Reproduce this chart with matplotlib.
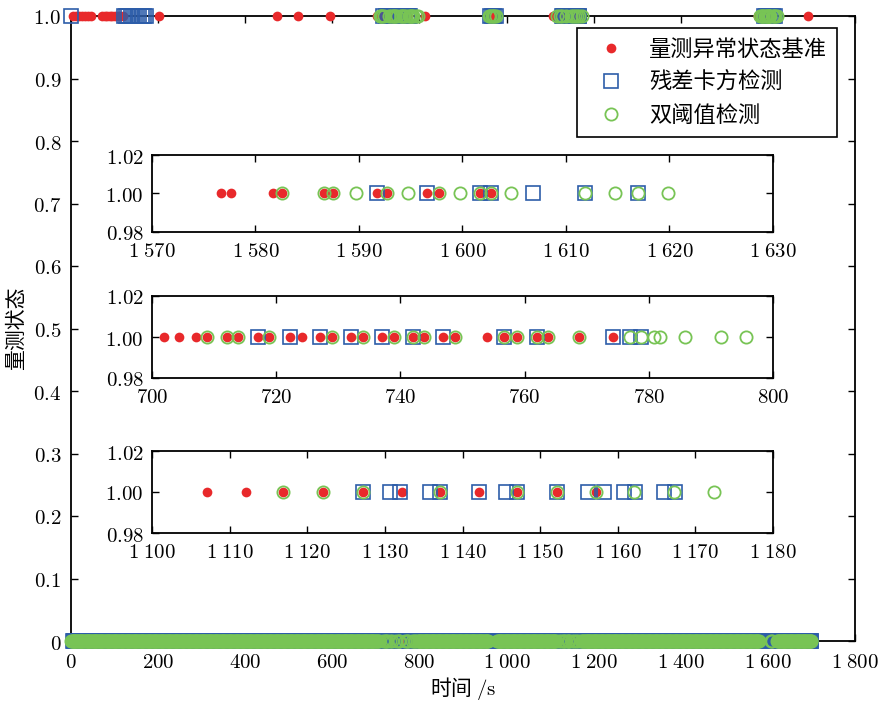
import matplotlib.pyplot as plt
import numpy as np

plt.rcParams['font.family'] = ['Noto Sans CJK SC', 'DejaVu Sans']
plt.rcParams['mathtext.fontset'] = 'cm'

# sampling grid of the whole record (s)
t_start, t_end, t_step = 0, 1700, 2

# instants flagged as abnormal (state = 1) by each method
ref_win1 = [1576.7, 1577.6, 1581.7, 1582.6, 1586.6, 1587.5, 1591.7, 1592.7,
            1596.6, 1597.7, 1601.7, 1602.8]
chi_win1 = [1591.7, 1596.6, 1601.7, 1602.8, 1606.8, 1611.8, 1617.0]
dual_win1 = [1582.6, 1586.6, 1587.5, 1589.7, 1592.7, 1594.7, 1597.7, 1599.8,
             1601.7, 1602.8, 1604.7, 1611.8, 1614.7, 1617.0, 1619.9]

ref_win2 = [701.9, 704.3, 707.1, 708.9, 712.1, 713.9, 717.1, 718.9, 722.3,
            724.2, 727.1, 729.0, 732.1, 733.9, 737.0, 738.9, 742.0, 743.8,
            746.8, 748.8, 754.0, 756.7, 758.8, 762.0, 763.8, 768.7, 774.2]
chi_win2 = [717.1, 722.3, 727.1, 732.1, 737.0, 742.0, 746.8, 756.7, 762.0,
            774.2, 776.9, 778.8]
dual_win2 = [708.9, 712.1, 713.9, 718.9, 729.0, 733.9, 738.9, 742.0, 743.8,
             748.8, 756.7, 758.8, 762.0, 763.8, 768.7, 776.9, 778.8, 780.9,
             781.8, 785.8, 791.6, 795.6]

ref_win3 = [1107.1, 1112.1, 1116.9, 1122.0, 1127.2, 1132.2, 1137.1, 1142.1,
            1147.0, 1152.2, 1157.2]
chi_win3 = [1127.2, 1130.7, 1132.0, 1135.8, 1137.1, 1142.1, 1145.6, 1147.0,
            1152.2, 1156.2, 1158.2, 1160.8, 1162.2, 1166.0, 1167.4]
dual_win3 = [1116.9, 1122.0, 1127.2, 1137.1, 1147.0, 1152.2, 1157.2, 1162.1,
             1167.3, 1172.4]

# flags outside the zoomed windows
ref_other = [5, 12, 19, 26, 33, 40, 47, 71, 77, 83, 89, 95, 101, 107, 113,
             119, 202, 473, 521, 595, 813, 966, 968, 1691]
chi_other = [1, 122, 127, 132, 137, 142, 147, 152, 157, 162, 167, 172,
             961, 966, 971, 976]
dual_other = [960, 963, 966, 969, 972, 975]

labels = ['量测异常状态基准', '残差卡方检测', '双阈值检测']
x_ticks = [0, 200, 400, 600, 800, 1000, 1200, 1400, 1600, 1800]
y_ticks = [0, 0.1, 0.2, 0.3, 0.4, 0.5, 0.6, 0.7, 0.8, 0.9, 1.0]

red, blue, green = '#e8292b', '#2d5da9', '#78c455'
styles = [dict(marker='o', ms=7, mfc=red, mec=red, mew=0, ls='none'),
          dict(marker='s', ms=10.5, mfc='none', mec=blue, mew=1.2, ls='none'),
          dict(marker='o', ms=8.8, mfc='none', mec=green, mew=1.3, ls='none')]


def num(v, dec=0):
    s = f'{v:.{dec}f}'
    if v >= 1000:
        s = s[:-3] + r'\;' + s[-3:]
    return f'${s}$'


series = []
for win1, win2, win3, other in [(ref_win1, ref_win2, ref_win3, ref_other),
                                (chi_win1, chi_win2, chi_win3, chi_other),
                                (dual_win1, dual_win2, dual_win3, dual_other)]:
    series.append(np.sort(np.array(other + win1 + win2 + win3, dtype=float)))

grid = np.arange(t_start, t_end + t_step, t_step, dtype=float)

fig = plt.figure(figsize=(8.79, 7.04), dpi=100)
ax = fig.add_axes([71 / 879, 1 - 641 / 704, 784 / 879, 625 / 704])

for t_abn, st, lab in zip(series, styles, labels):
    dist = np.min(np.abs(grid[:, None] - t_abn[None, :]), axis=1)
    t_norm = grid[dist > 1.5]
    ax.plot(t_norm, np.zeros_like(t_norm), clip_on=False, zorder=3, **st)
    ax.plot(t_abn, np.ones_like(t_abn), clip_on=False, zorder=3, label=lab, **st)

ax.set_xlim(0, 1800)
ax.set_ylim(0, 1)
ax.set_xticks(x_ticks)
ax.set_xticklabels([num(v) for v in x_ticks])
ax.set_yticks(y_ticks)
ax.set_yticklabels(['$0$'] + [num(v, 1) for v in y_ticks[1:]])
ax.tick_params(direction='in', top=True, right=True, labelsize=15, length=5,
               width=1.0, pad=7)
for sp in ax.spines.values():
    sp.set_linewidth(1.3)
ax.set_xlabel('时间 $/\\mathrm{s}$', fontsize=15, labelpad=2)
ax.set_ylabel('量测状态', fontsize=15, labelpad=4)

leg = ax.legend(loc='upper right', bbox_to_anchor=(0.977, 0.981),
                borderaxespad=0, fancybox=False, edgecolor='black',
                fontsize=16, handletextpad=0.6, labelspacing=0.45,
                borderpad=0.45, handlelength=2.2, framealpha=1)
leg.get_frame().set_linewidth(1.2)

windows = [(155, 232, 1570, 1630, 10),
           (296, 378, 700, 800, 20),
           (451, 533, 1100, 1180, 10)]
for top, bot, x0, x1, step in windows:
    ins = fig.add_axes([152 / 879, 1 - bot / 704, 621 / 879, (bot - top) / 704])
    for t_abn, st in zip(series, styles):
        sel = t_abn[(t_abn >= x0) & (t_abn <= x1)]
        ins.plot(sel, np.ones_like(sel), **st)
    ins.set_xlim(x0, x1)
    ins.set_ylim(0.98, 1.02)
    xt = list(range(x0, x1 + 1, step))
    ins.set_xticks(xt)
    ins.set_xticklabels([num(v) for v in xt])
    ins.set_yticks([0.98, 1.0, 1.02])
    ins.set_yticklabels([num(v, 2) for v in [0.98, 1.0, 1.02]])
    ins.tick_params(direction='in', top=True, right=True, labelsize=15,
                    length=5, width=1.0, pad=6)
    for sp in ins.spines.values():
        sp.set_linewidth(1.3)

fig.savefig('out.png', dpi=100)
